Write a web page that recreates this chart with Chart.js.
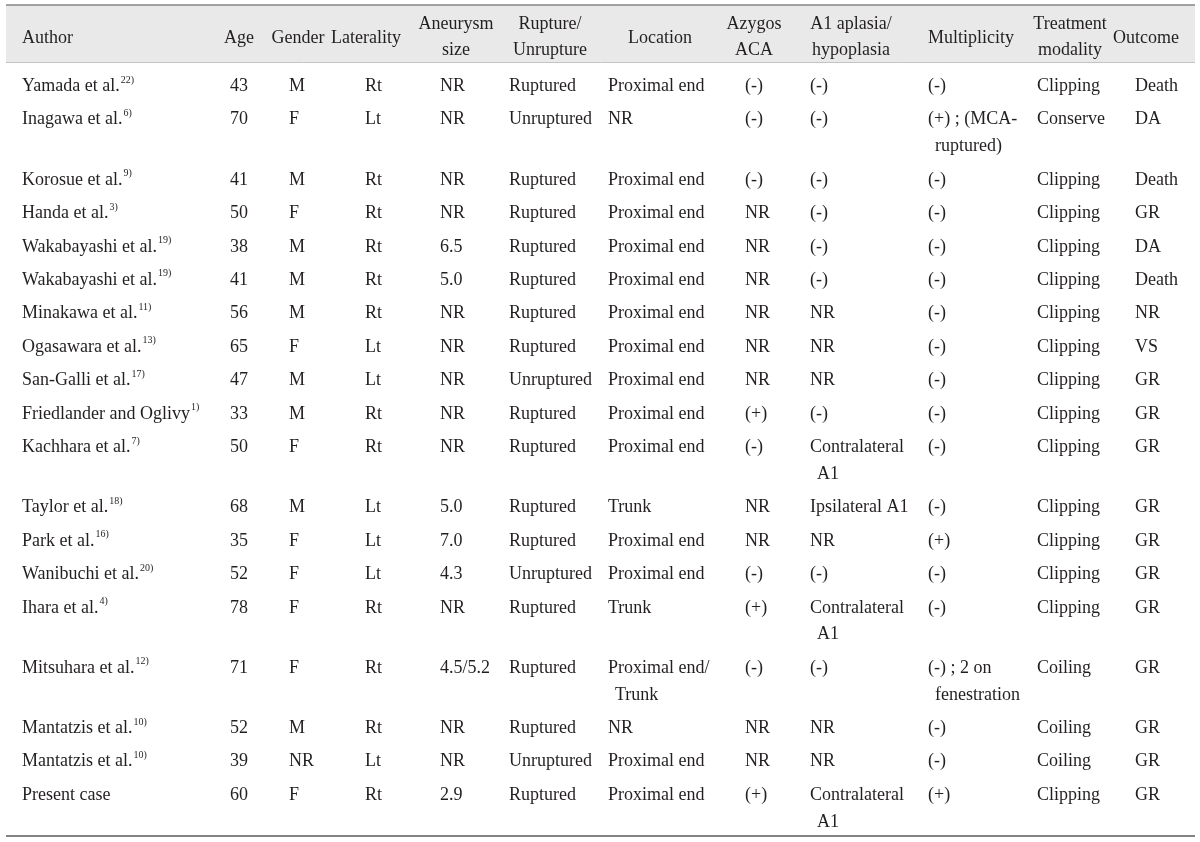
<!DOCTYPE html>
<html>
<head>
<meta charset="utf-8">
<script src="https://cdn.jsdelivr.net/npm/chart.js@4.4.1/dist/chart.umd.min.js"></script>
<style>
  html, body { margin: 0; padding: 0; background: #fff; }
  canvas { display: block; }
</style>
</head>
<body>
<canvas id="tableChart" width="1200" height="842"></canvas>
<script>
// column headers and cell values, one array per column
const headers = ['Author', 'Age', 'Gender', 'Laterality', 'Aneurysm\nsize', 'Rupture/\nUnrupture',
  'Location', 'Azygos\nACA', 'A1 aplasia/\nhypoplasia', 'Multiplicity', 'Treatment\nmodality', 'Outcome'];

const authors = ['Yamada et al.', 'Inagawa et al.', 'Korosue et al.', 'Handa et al.', 'Wakabayashi et al.',
  'Wakabayashi et al.', 'Minakawa et al.', 'Ogasawara et al.', 'San-Galli et al.', 'Friedlander and Oglivy',
  'Kachhara et al.', 'Taylor et al.', 'Park et al.', 'Wanibuchi et al.', 'Ihara et al.', 'Mitsuhara et al.',
  'Mantatzis et al.', 'Mantatzis et al.', 'Present case'];
const refs = ['22)', '6)', '9)', '3)', '19)', '19)', '11)', '13)', '17)', '1)', '7)', '18)', '16)', '20)', '4)',
  '12)', '10)', '10)', ''];
const ages = ['43', '70', '41', '50', '38', '41', '56', '65', '47', '33', '50', '68', '35', '52', '78', '71', '52', '39', '60'];
const genders = ['M', 'F', 'M', 'F', 'M', 'M', 'M', 'F', 'M', 'M', 'F', 'M', 'F', 'F', 'F', 'F', 'M', 'NR', 'F'];
const laterality = ['Rt', 'Lt', 'Rt', 'Rt', 'Rt', 'Rt', 'Rt', 'Lt', 'Lt', 'Rt', 'Rt', 'Lt', 'Lt', 'Lt', 'Rt', 'Rt', 'Rt', 'Lt', 'Rt'];
const sizes = ['NR', 'NR', 'NR', 'NR', '6.5', '5.0', 'NR', 'NR', 'NR', 'NR', 'NR', '5.0', '7.0', '4.3', 'NR', '4.5/5.2', 'NR', 'NR', '2.9'];
const rupture = ['Ruptured', 'Unruptured', 'Ruptured', 'Ruptured', 'Ruptured', 'Ruptured', 'Ruptured', 'Ruptured',
  'Unruptured', 'Ruptured', 'Ruptured', 'Ruptured', 'Ruptured', 'Unruptured', 'Ruptured', 'Ruptured', 'Ruptured',
  'Unruptured', 'Ruptured'];
const locations = ['Proximal end', 'NR', 'Proximal end', 'Proximal end', 'Proximal end', 'Proximal end', 'Proximal end',
  'Proximal end', 'Proximal end', 'Proximal end', 'Proximal end', 'Trunk', 'Proximal end', 'Proximal end', 'Trunk',
  'Proximal end/\nTrunk', 'NR', 'Proximal end', 'Proximal end'];
const azygos = ['(-)', '(-)', '(-)', 'NR', 'NR', 'NR', 'NR', 'NR', 'NR', '(+)', '(-)', 'NR', 'NR', '(-)', '(+)', '(-)', 'NR', 'NR', '(+)'];
const a1 = ['(-)', '(-)', '(-)', '(-)', '(-)', '(-)', 'NR', 'NR', 'NR', '(-)', 'Contralateral\nA1', 'Ipsilateral A1', 'NR',
  '(-)', 'Contralateral\nA1', '(-)', 'NR', 'NR', 'Contralateral\nA1'];
const multiplicity = ['(-)', '(+) ; (MCA-\nruptured)', '(-)', '(-)', '(-)', '(-)', '(-)', '(-)', '(-)', '(-)', '(-)', '(-)',
  '(+)', '(-)', '(-)', '(-) ; 2 on\nfenestration', '(-)', '(-)', '(+)'];
const treatment = ['Clipping', 'Conserve', 'Clipping', 'Clipping', 'Clipping', 'Clipping', 'Clipping', 'Clipping',
  'Clipping', 'Clipping', 'Clipping', 'Clipping', 'Clipping', 'Clipping', 'Clipping', 'Coiling', 'Coiling', 'Coiling', 'Clipping'];
const outcome = ['Death', 'DA', 'Death', 'GR', 'DA', 'Death', 'NR', 'VS', 'GR', 'GR', 'GR', 'GR', 'GR', 'GR', 'GR', 'GR',
  'GR', 'GR', 'GR'];

const columns = [authors, ages, genders, laterality, sizes, rupture, locations, azygos, a1, multiplicity, treatment, outcome];

// layout
const colX = [22, 230, 289, 365, 440, 509, 608, 745, 810, 928, 1037, 1135];
const headX = [22, 239, 298, 366, 456, 550, 660, 754, 851, 971, 1070, 1146];
const FIRST = 84.5;   // centre of first body line, px
const LINE = 26.75;   // px per line unit
const ROW_GAP = 0.25; // extra units between rows
const INDENT = 7;
const FONT = '"Liberation Serif", "Times New Roman", serif';
const INK = '#231f20';

// row positions in line units, from how many lines each row needs
const rowLines = authors.map((_, i) => Math.max(...columns.map(col => col[i].split('\n').length)));
const rowY = [];
rowLines.reduce((acc, n, i) => { rowY[i] = acc; return acc + n + ROW_GAP; }, 0);

const tablePlugin = {
  id: 'tablePlugin',
  beforeDraw(chart) {
    const ctx = chart.ctx;
    ctx.save();
    ctx.fillStyle = '#fff';
    ctx.fillRect(0, 0, chart.width, chart.height);
    // header band
    ctx.fillStyle = '#e9e9e9';
    ctx.fillRect(6, 5, 1189, 57);
    ctx.strokeStyle = '#c4c4c4';
    ctx.lineWidth = 1;
    ctx.beginPath(); ctx.moveTo(6, 62.5); ctx.lineTo(1195, 62.5); ctx.stroke();
    ctx.strokeStyle = '#858585';
    ctx.lineWidth = 1.6;
    ctx.beginPath(); ctx.moveTo(6, 5); ctx.lineTo(1195, 5); ctx.stroke();
    ctx.strokeStyle = '#5a5a5a';
    ctx.lineWidth = 1.5;
    ctx.beginPath(); ctx.moveTo(6, 836); ctx.lineTo(1195, 836); ctx.stroke();
    // header text
    ctx.fillStyle = INK;
    ctx.font = '18px ' + FONT;
    headers.forEach((h, c) => {
      const parts = h.split('\n');
      ctx.textAlign = c === 0 ? 'left' : 'center';
      if (parts.length === 1) {
        ctx.fillText(parts[0], headX[c], 43);
      } else {
        ctx.fillText(parts[0], headX[c], 29);
        ctx.fillText(parts[1], headX[c], 55);
      }
    });
    ctx.restore();
  },
  afterDatasetsDraw(chart) {
    const ctx = chart.ctx;
    const y = chart.scales.y;
    ctx.save();
    ctx.fillStyle = INK;
    ctx.textAlign = 'left';
    ctx.textBaseline = 'alphabetic';
    chart.data.datasets.forEach((ds, c) => {
      const meta = chart.getDatasetMeta(c);
      meta.data.forEach((pt, i) => {
        ctx.font = '18px ' + FONT;
        const lines = ds.texts[i].split('\n');
        lines.forEach((t, k) => {
          const py = y.getPixelForValue(ds.data[i].y + k);
          ctx.fillText(t, pt.x + (k ? INDENT : 0), py + 6.5);
        });
        if (c === 0 && refs[i]) {
          const w = ctx.measureText(lines[0]).width;
          ctx.font = '10px ' + FONT;
          ctx.fillText(refs[i], pt.x + w + 1, pt.y - 2);
        }
      });
    });
    ctx.restore();
  }
};

new Chart(document.getElementById('tableChart'), {
  type: 'scatter',
  data: {
    datasets: columns.map((col, c) => ({
      label: headers[c].replace('\n', ' '),
      texts: col,
      data: col.map((_, i) => ({ x: colX[c], y: rowY[i] })),
      pointRadius: 0,
      pointHoverRadius: 0
    }))
  },
  options: {
    responsive: false,
    animation: false,
    layout: { padding: 0 },
    plugins: { legend: { display: false }, tooltip: { enabled: false } },
    scales: {
      x: { type: 'linear', min: 0, max: 1200, display: false },
      y: { type: 'linear', reverse: true, min: -FIRST / LINE, max: (842 - FIRST) / LINE, display: false }
    }
  },
  plugins: [tablePlugin]
});
</script>
</body>
</html>
